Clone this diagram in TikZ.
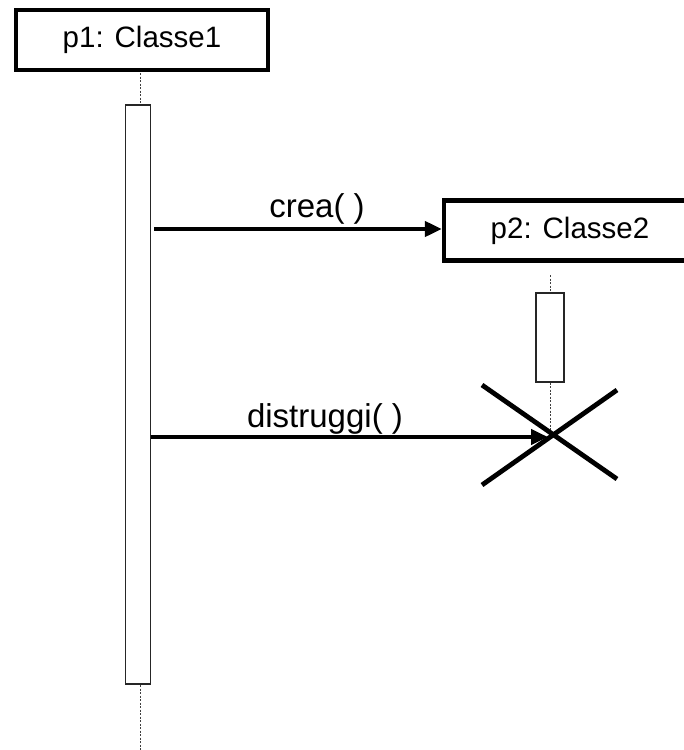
\documentclass[tikz,border=0pt]{standalone}
\usepackage{fontspec}
\setmainfont{Liberation Sans}
\usetikzlibrary{arrows.meta}
\begin{document}
\begin{tikzpicture}[x=1pt,y=-1pt,
  objbox/.style={draw, line width=4.2pt, fill=white, minimum width=252pt,
    minimum height=60pt, inner sep=0pt, font=\fontsize{29.5}{32}\selectfont},
  actbar/.style={draw=black!85, line width=1.2pt, fill=white, inner sep=0pt},
  lifeline/.style={draw=black!75, line width=1pt, dash pattern=on 2pt off 1.5pt},
  msg/.style={line width=4pt, -{Triangle[length=17pt,width=15pt]}},
  msglabel/.style={anchor=base, inner sep=0pt, font=\fontsize{33}{36}\selectfont},
  killmark/.style={line width=4.8pt}
]
\clip (0,0) rectangle (684,750);
\fill[white] (0,0) rectangle (684,750);

% object p1 with its lifeline and activation bar
\node[objbox] (p1) at (142,40) {p1: Classe1};
\node[actbar, minimum width=25pt, minimum height=579pt] (a1) at (138,394.5) {};
\coordinate (p1end) at (140,750);
\draw[lifeline] (140,73) -- (140,104.5);
\draw[lifeline] (140,685) -- (p1end);

% object p2, created and then destroyed
\node[objbox] (p2) at (570,230.5) {p2: Classe2};
\node[actbar, minimum width=28pt, minimum height=89pt] (a2) at (550,337.5) {};
\coordinate (kill) at (550,435);
\draw[lifeline] (550,275) -- (a2.north);
\draw[lifeline] (a2.south) -- (kill);

% destruction mark
\draw[killmark] ([shift={(-68,-50)}]kill) -- ([shift={(67,44)}]kill);
\draw[killmark] ([shift={(-68,50)}]kill) -- ([shift={(67,-45)}]kill);

% messages
\draw[msg] ([xshift=3pt]a1.east |- 0,229) -- (p2.west |- 0,229);
\node[msglabel] (lcrea) at (317,217) {crea( )};
\draw[msg] (a1.east |- 0,437) -- ([xshift=-2pt]kill |- 0,437);
\node[msglabel] (ldis) at (325,427.5) {distruggi( )};
\end{tikzpicture}
\end{document}
